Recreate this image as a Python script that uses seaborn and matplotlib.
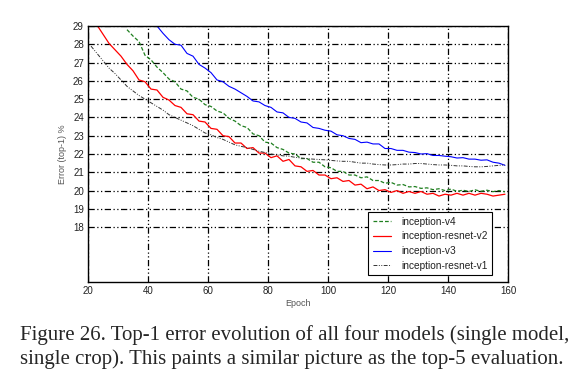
import matplotlib
matplotlib.use("Agg")
import matplotlib.pyplot as plt
import seaborn as sns
import pandas as pd

# ---- data ----
epochs_v4 = list(range(33, 160, 2))
err_v4 = [28.8, 28.45, 28.15, 27.4, 27.15, 26.75, 26.45, 26.1, 25.95, 25.55,
          25.45, 25.1, 25.0, 24.7, 24.6, 24.35, 24.25, 23.95, 23.8, 23.55,
          23.45, 23.1, 23.0, 22.65, 22.6, 22.35, 22.25, 22.05, 22.0, 21.75,
          21.75, 21.55, 21.55, 21.3, 21.25, 21.05, 21.05, 20.85, 20.85, 20.7,
          20.75, 20.55, 20.55, 20.4, 20.45, 20.3, 20.33, 20.2, 20.22, 20.12,
          20.15, 20.05, 20.1, 20.0, 20.08, 19.96, 20.02, 19.95, 20.04, 19.96,
          20.02, 19.94, 20.0, 19.93]

epochs_rv2 = list(range(23, 160, 2))
err_rv2 = [29.05, 28.55, 28.05, 27.7, 27.35, 26.9, 26.55, 26.05, 25.95, 25.55,
           25.5, 25.1, 24.95, 24.65, 24.55, 24.2, 24.15, 23.8, 23.75, 23.4,
           23.35, 23.0, 22.95, 22.6, 22.6, 22.3, 22.35, 22.05, 22.05, 21.8,
           21.9, 21.6, 21.7, 21.35, 21.3, 21.05, 21.1, 20.85, 20.85, 20.65,
           20.7, 20.5, 20.55, 20.3, 20.35, 20.1, 20.2, 20.0, 20.05, 19.9,
           20.0, 19.85, 19.95, 19.85, 19.95, 19.8, 19.85, 19.7, 19.8, 19.75,
           19.85, 19.75, 19.85, 19.75, 19.85, 19.8, 19.7, 19.75, 19.8]

epochs_v3 = list(range(43, 160, 2))
err_v3 = [29.0, 28.6, 28.25, 28.0, 27.95, 27.5, 27.35, 26.9, 26.7, 26.45,
          26.05, 25.95, 25.7, 25.55, 25.35, 25.15, 24.9, 24.85, 24.65, 24.55,
          24.3, 24.25, 24.0, 23.95, 23.75, 23.7, 23.45, 23.4, 23.3, 23.25,
          23.05, 23.0, 22.85, 22.8, 22.62, 22.65, 22.55, 22.55, 22.3, 22.3,
          22.2, 22.2, 22.1, 22.08, 22.0, 22.02, 21.92, 21.92, 21.88, 21.85,
          21.78, 21.8, 21.72, 21.72, 21.66, 21.68, 21.55, 21.5, 21.38]

epochs_rv1 = list(range(21, 160, 2))
err_rv1 = [27.9, 27.5, 27.1, 26.7, 26.4, 26.05, 25.7, 25.45, 25.2, 25.0,
           24.8, 24.6, 24.4, 24.15, 24.0, 23.85, 23.7, 23.55, 23.35, 23.15,
           23.05, 22.9, 22.8, 22.65, 22.5, 22.42, 22.35, 22.25, 22.15, 22.08,
           22.0, 21.95, 21.9, 21.88, 21.82, 21.78, 21.75, 21.72, 21.7, 21.68,
           21.65, 21.62, 21.6, 21.6, 21.55, 21.5, 21.5, 21.45, 21.42, 21.4,
           21.4, 21.42, 21.45, 21.45, 21.48, 21.48, 21.45, 21.42, 21.4, 21.4,
           21.38, 21.35, 21.35, 21.32, 21.3, 21.3, 21.32, 21.35, 21.38, 21.4]

series_names = ["inception-v4", "inception-resnet-v2", "inception-v3", "inception-resnet-v1"]
x_ticks = [20, 40, 60, 80, 100, 120, 140, 160]
y_ticks = [18, 19, 20, 21, 22, 23, 24, 25, 26, 27, 28, 29]
caption_lines = ["Figure 26. Top-1 error evolution of all four models (single model,",
                 "single crop). This paints a similar picture as the top-5 evaluation."]

# ---- plot ----
sns.set_style("white")
plt.rcParams['font.family'] = ['Liberation Sans', 'DejaVu Sans']

fig = plt.figure(figsize=(5.76, 3.77), dpi=100)
ax = fig.add_axes([88/576, 1-282/377, 420/576, 256/377])

styles = [
    dict(color="#1f7f1f", linestyle=(0, (3, 1.6)), linewidth=0.9),
    dict(color="#ff0000", linestyle="-", linewidth=0.9),
    dict(color="#0000ff", linestyle="-", linewidth=0.8),
    dict(color="#333333", linestyle=(0, (4, 1.5, 1, 1.5, 1, 1.5)), linewidth=0.7),
]
data = [(epochs_v4, err_v4), (epochs_rv2, err_rv2), (epochs_v3, err_v3), (epochs_rv1, err_rv1)]
for name, (xs, ys), st in zip(series_names, data, styles):
    df = pd.DataFrame({"Epoch": xs, "Error": ys})
    sns.lineplot(data=df, x="Epoch", y="Error", ax=ax, label=name, **st)

ax.set_xlim(20, 160)
ax.set_ylim(15, 29)
ax.set_xticks(x_ticks)
ax.set_yticks(y_ticks)
ax.tick_params(axis='both', labelsize=7, colors='#222222', length=0, pad=3)
ax.grid(True, color='black', linestyle=(0, (5, 2, 1, 2, 1, 2)), linewidth=0.9)
ax.set_axisbelow(True)
for sp in ax.spines.values():
    sp.set_color('black')
    sp.set_linewidth(1.0)
ax.set_xlabel("Epoch", fontsize=6.5, color='#555555', labelpad=2)
ax.set_ylabel("Error (top-1) %", fontsize=6.5, color='#555555', labelpad=4)

leg = ax.legend(loc='lower right', bbox_to_anchor=(0.962, 0.027), borderaxespad=0,
                fontsize=7.25, frameon=True, fancybox=False, framealpha=1,
                edgecolor='black', handlelength=1.8, labelspacing=0.45,
                borderpad=0.45, handletextpad=1.0)
leg.get_frame().set_linewidth(0.8)
for t in leg.get_texts():
    t.set_color('#222222')

fig.text(20/576, 1-340/377, caption_lines[0], family='Liberation Serif', fontsize=15,
         va='baseline', ha='left')
fig.text(20/576, 1-364/377, caption_lines[1], family='Liberation Serif', fontsize=15,
         va='baseline', ha='left')

fig.savefig("out.png", dpi=100)
